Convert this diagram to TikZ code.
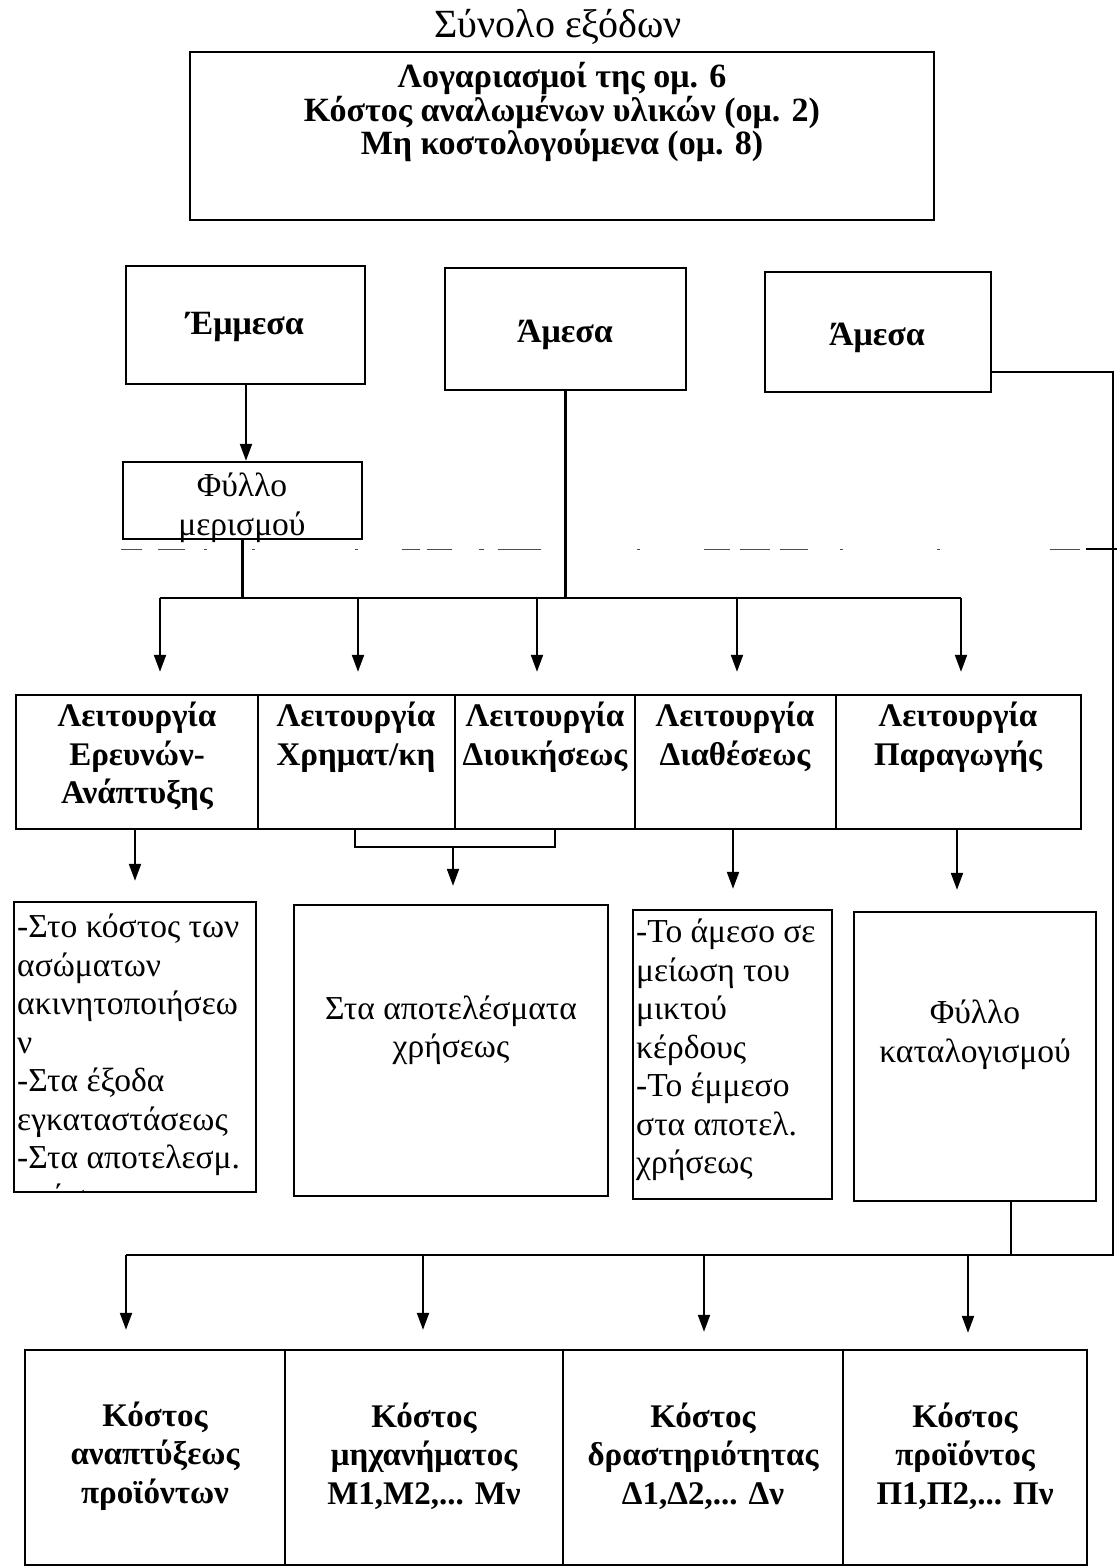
\documentclass[tikz,border=0pt]{standalone}
\usepackage{fontspec}
\setmainfont{Liberation Serif}
\usetikzlibrary{arrows.meta,fit,calc}
\begin{document}
\begin{tikzpicture}[x=1pt,y=-1pt,
  boxs/.style={draw, line width=2.4pt, inner sep=0pt},
  conn/.style={line width=2.1pt},
  arr/.style={conn, -{Triangle[length=17pt,width=12pt]}},
  bf/.style={font={\bfseries\fontsize{33}{38.5}\selectfont}, align=center, inner sep=0pt},
  rg/.style={font={\fontsize{33.5}{38.5}\selectfont}, align=center, inner sep=0pt},
  rgl/.style={font={\fontsize{33.5}{38.5}\selectfont}, align=left, inner sep=0pt},
  artefact/.style={line width=1pt, black!70}
]
\useasboundingbox (0,0) rectangle (1117,1568);

% title
\node[font={\fontsize{40}{42}\selectfont}, inner sep=0pt] (title) at (558,27) {Σύνολο εξόδων};

% top box
\node[boxs, fit={(190,52)(934,220)}] (topbox) {};
\node[bf, font={\bfseries\fontsize{34}{32.5}\selectfont}] (toptext) at (562,112)
  {Λογαριασμοί της ομ. 6\\Κόστος αναλωμένων υλικών (ομ. 2)\\Μη κοστολογούμενα (ομ. 8)};

% second row
\node[boxs, fit={(126,266)(365,384)}] (emmesa) {};
\node[bf, font={\bfseries\fontsize{34}{38}\selectfont}] (emmesaT) at (245,327) {Έμμεσα};
\node[boxs, fit={(445,268)(686,390)}] (amesa2) {};
\node[bf, font={\bfseries\fontsize{34}{38}\selectfont}] (amesa2T) at (565,335) {Άμεσα};
\node[boxs, fit={(765,272)(991,392)}] (amesa3) {};
\node[bf, font={\bfseries\fontsize{34}{38}\selectfont}] (amesa3T) at (877,338) {Άμεσα};

% allocation sheet
\node[boxs, fit={(123,462)(362,539)}] (fyllo) {};
\node[rg] (fylloT) at (242,508) {Φύλλο\\μερισμού};

% scan artefact (broken dashed line)
\foreach \a/\b in {121/142,158/185,204/207,252/255,355/358,402/420,427/452,479/484,498/541,637/640,704/730,740/770,780/808,840/843,937/940,1050/1080}
  \draw[artefact] (\a,549) -- (\b,549);
\draw[line width=2pt] (1086,549) -- (1117,549);

% functions row
\node[boxs, fit={(16,695)(258,829)}] (frd) {};
\node[boxs, fit={(258,695)(455,829)}] (ffin) {};
\node[boxs, fit={(455,695)(635,829)}] (fadm) {};
\node[boxs, fit={(635,695)(836,829)}] (fdis) {};
\node[boxs, fit={(836,695)(1081,829)}] (fprod) {};
\node[bf, anchor=north] (frdT) at (137,702) {Λειτουργία\\Ερευνών-\\Ανάπτυξης};
\node[bf, anchor=north] (ffinT) at (356,702) {Λειτουργία\\Χρηματ/κη};
\node[bf, anchor=north] (fadmT) at (545,702) {Λειτουργία\\Διοικήσεως};
\node[bf, anchor=north] (fdisT) at (735,702) {Λειτουργία\\Διαθέσεως};
\node[bf, anchor=north] (fprodT) at (958,702) {Λειτουργία\\Παραγωγής};

% top connectors
\coordinate (busL) at (160,598);
\coordinate (busR) at (961,598);
\draw[arr] (emmesa.south -| 246,0) -- (246,0 |- fyllo.north);
\draw[conn] (fyllo.south) -- (fyllo.south |- busL);
\draw[conn] (amesa2.south) -- (amesa2.south |- busL);
\draw[conn] (busL) -- (busR);
\draw[arr, shorten >=22pt] (busL) -- (busL |- frd.north);
\draw[arr, shorten >=22pt] (358,598) -- (358,0 |- ffin.north);
\draw[arr, shorten >=22pt] (537,598) -- (537,0 |- fadm.north);
\draw[arr, shorten >=22pt] (737,598) -- (737,0 |- fdis.north);
\draw[arr, shorten >=22pt] (busR) -- (busR |- fprod.north);

% middle boxes
\node[boxs, fit={(14,902)(256,1192)}] (mA) {};
\node[boxs, fit={(294,905)(608,1196)}] (mB) {};
\node[boxs, fit={(633,910)(832,1199)}] (mC) {};
\node[boxs, fit={(854,912)(1096,1201)}] (mD) {};
\begin{scope}
  \clip (14,902) rectangle (256,1191);
  \node[rgl, anchor=north west] (mAT) at (17,914)
   {-Στο κόστος των\\ασώματων\\ακινητοποιήσεω\\ν\\-Στα έξοδα\\εγκαταστάσεως\\-Στα αποτελεσμ.\\χρήσεως};
\end{scope}
\node[rg] (mBT) at (451,1030) {Στα αποτελέσματα\\χρήσεως};
\node[rgl, anchor=north west] (mCT) at (636,919)
  {-Το άμεσο σε\\μείωση του\\μικτού\\κέρδους\\-Το έμμεσο\\στα αποτελ.\\χρήσεως};
\node[rg] (mDT) at (975,1035) {Φύλλο\\καταλογισμού};

% function -> middle
\draw[arr, shorten >=20pt] (frd.south -| 135,0) -- (135,0 |- mA.north);
\coordinate (brL) at (355,847);
\coordinate (brR) at (555,847);
\draw[conn] (355,0 |- ffin.south) -- (brL) -- (brR) -- (555,0 |- fadm.south);
\draw[arr, shorten >=18pt] (453,847) -- (453,0 |- mB.north);
\draw[arr, shorten >=20pt] (fdis.south -| 733,0) -- (733,0 |- mC.north);
\draw[arr, shorten >=21pt] (fprod.south -| 957,0) -- (957,0 |- mD.north);

% right line and bottom bus
\coordinate (rc1) at (1113,372);
\coordinate (rc2) at (1113,1255);
\coordinate (bbL) at (126,1255);
\draw[conn] (amesa3.east |- rc1) -- (rc1) -- (rc2) -- (bbL);
\draw[conn] (mD.south -| 1011,0) -- (1011,1255);

% bottom row
\node[boxs, fit={(25,1350)(285,1565)}] (kA) {};
\node[boxs, fit={(285,1350)(563,1565)}] (kB) {};
\node[boxs, fit={(563,1350)(843,1565)}] (kC) {};
\node[boxs, fit={(843,1350)(1087,1565)}] (kD) {};
\node[bf] (kAT) at (155,1456) {Κόστος\\αναπτύξεως\\προϊόντων};
\node[bf] (kBT) at (424,1456) {Κόστος\\μηχανήματος\\Μ1,Μ2,... Μν};
\node[bf] (kCT) at (703,1456) {Κόστος\\δραστηριότητας\\Δ1,Δ2,... Δν};
\node[bf] (kDT) at (965,1456) {Κόστος\\προϊόντος\\Π1,Π2,... Πν};

\draw[arr, shorten >=19pt] (bbL) -- (bbL |- kA.north);
\draw[arr, shorten >=19pt] (423,1255) -- (423,0 |- kB.north);
\draw[arr, shorten >=17pt] (704,1255) -- (704,0 |- kC.north);
\draw[arr, shorten >=16pt] (968,1255) -- (968,0 |- kD.north);
\end{tikzpicture}
\end{document}
